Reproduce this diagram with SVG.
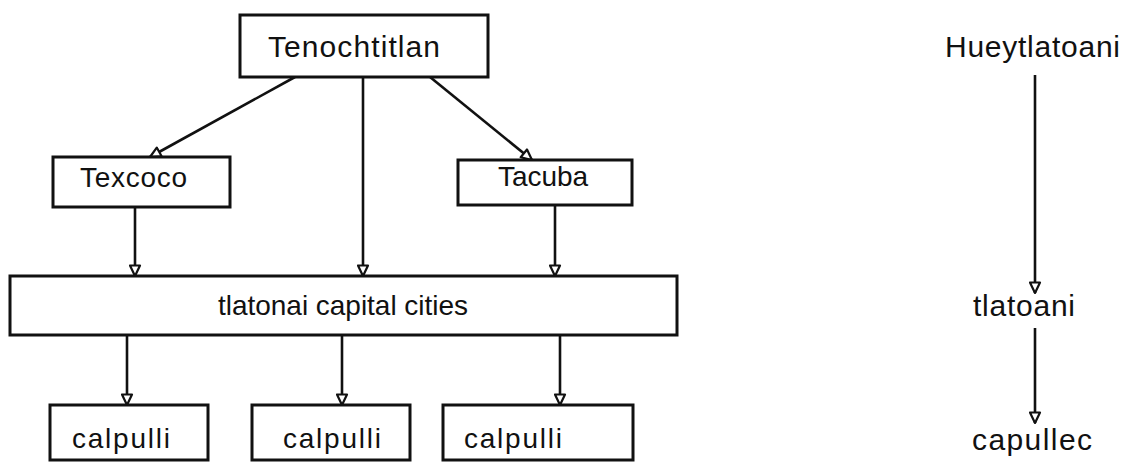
<svg xmlns="http://www.w3.org/2000/svg" width="1122" height="462" viewBox="0 0 1122 462">
<defs>
<style>
.box{fill:#fff;stroke:#111;stroke-width:3}
.t{font-family:"Liberation Sans",Arial,sans-serif;fill:#111}
.c{stroke:#111;stroke-width:2.6;fill:none;marker-end:url(#ah)}
</style>
<marker id="ah" viewBox="0 0 13 13" refX="12" refY="6.5" markerWidth="13" markerHeight="13" markerUnits="userSpaceOnUse" orient="auto">
<path d="M1.5,1.5 L12,6.5 L1.5,11.5 Z" fill="#fff" stroke="#111" stroke-width="2.2" stroke-linejoin="round"/>
</marker>
</defs>
<rect width="1122" height="462" fill="#fff"/>
<g id="connectors">
<line class="c" x1="295" y1="77" x2="150" y2="157"/>
<line class="c" x1="363" y1="77" x2="363" y2="276"/>
<line class="c" x1="430" y1="77" x2="532" y2="160"/>
<line class="c" x1="135" y1="207" x2="135" y2="276"/>
<line class="c" x1="555" y1="205" x2="555" y2="276"/>
<line class="c" x1="127" y1="335" x2="127" y2="405"/>
<line class="c" x1="342" y1="335" x2="342" y2="405"/>
<line class="c" x1="560" y1="335" x2="560" y2="405"/>
<line class="c" x1="1035" y1="75" x2="1035" y2="293"/>
<line class="c" x1="1035" y1="328" x2="1035" y2="423"/>
</g>
<g id="tenochtitlan">
<rect class="box" x="240" y="15" width="248" height="62"/>
<text class="t" x="268" y="57" font-size="30" textLength="172" lengthAdjust="spacing">Tenochtitlan</text>
</g>
<g id="texcoco">
<rect class="box" x="53" y="157" width="177" height="50"/>
<text class="t" x="80" y="187" font-size="28" textLength="107" lengthAdjust="spacing">Texcoco</text>
</g>
<g id="tacuba">
<rect class="box" x="458" y="160" width="174" height="45"/>
<text class="t" x="498" y="186" font-size="28" textLength="90" lengthAdjust="spacing">Tacuba</text>
</g>
<g id="capitals">
<rect class="box" x="10" y="276" width="667" height="59"/>
<text class="t" x="218" y="315" font-size="28" textLength="250" lengthAdjust="spacing">tlatonai capital cities</text>
</g>
<g id="calpulli1">
<rect class="box" x="50" y="405" width="158" height="55"/>
<text class="t" x="72" y="448" font-size="28" textLength="98" lengthAdjust="spacing">calpulli</text>
</g>
<g id="calpulli2">
<rect class="box" x="252" y="405" width="158" height="55"/>
<text class="t" x="283" y="448" font-size="28" textLength="98" lengthAdjust="spacing">calpulli</text>
</g>
<g id="calpulli3">
<rect class="box" x="443" y="405" width="190" height="55"/>
<text class="t" x="464" y="448" font-size="28" textLength="98" lengthAdjust="spacing">calpulli</text>
</g>
<g id="hueytlatoani">
<text class="t" x="945" y="57" font-size="30" textLength="175" lengthAdjust="spacing">Hueytlatoani</text>
</g>
<g id="tlatoani">
<text class="t" x="973" y="316" font-size="30" textLength="102" lengthAdjust="spacing">tlatoani</text>
</g>
<g id="capullec">
<text class="t" x="972" y="450" font-size="30" textLength="120" lengthAdjust="spacing">capullec</text>
</g>
</svg>
